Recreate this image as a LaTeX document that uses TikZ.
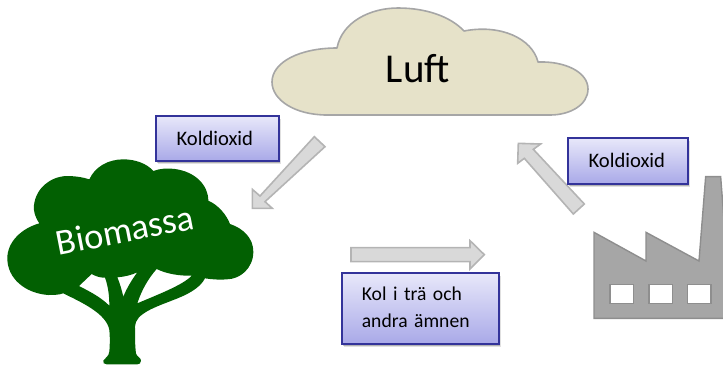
\documentclass[tikz,border=0pt]{standalone}
\usepackage{fontspec}
\setmainfont{Carlito}
\usetikzlibrary{shadows}
\tikzset{
  labelbox/.style={draw=boxblue,line width=1.7pt,top color=boxtop,bottom color=boxbot,
    drop shadow={shadow xshift=2.5pt,shadow yshift=-3.5pt,opacity=.12,fill=black},
    drop shadow={shadow xshift=1.5pt,shadow yshift=-2.5pt,opacity=.2,fill=black},
    inner sep=0pt,anchor=north west,font=\fontsize{19.6}{27}\selectfont},
  blockarrow/.style={draw=arrowline,fill=arrowfill,line width=1.6pt,line join=miter},
  factoryline/.style={draw=factoryedge,line width=1.4pt,line join=miter}
}
\definecolor{boxblue}{HTML}{33339A}
\definecolor{boxtop}{HTML}{E8E8FA}
\definecolor{boxbot}{HTML}{A9A9E8}
\definecolor{arrowline}{HTML}{B4B4B4}
\definecolor{arrowfill}{HTML}{D9D9D9}
\definecolor{factoryedge}{HTML}{8E8E8E}
\definecolor{factoryfill}{HTML}{A6A6A6}
\definecolor{treegreen}{HTML}{026002}
\definecolor{cloudfill}{HTML}{E6E2C9}
\definecolor{cloudedge}{HTML}{A6A6A6}
\begin{document}
\begin{tikzpicture}[x=1pt,y=-1pt]
\useasboundingbox (0,0) rectangle (723,365);
% cloud
\draw[fill=cloudfill,draw=cloudedge,line width=1.6pt,line join=round]
  (337,48) .. controls (342,22) and (370,8) .. (398,8)
  .. controls (425,8) and (450,16) .. (464,31)
  .. controls (500,24) and (532,38) .. (538,62)
  .. controls (565,61) and (588,72) .. (588,89)
  .. controls (588,105) and (570,115) .. (550,115)
  -- (327,115)
  .. controls (295,115) and (272,100) .. (272,82)
  .. controls (272,62) and (300,48) .. (337,48) -- cycle;
\node (luft) at (418,69) {\fontsize{41}{44}\selectfont Luft};
% tree
\begin{scope}[shift={(0,100)},x=0.33333pt,y=-0.33333pt]
\fill[treegreen,even odd rule]
  (268,238) .. controls (285,200) and (325,178) .. (370,178)
  .. controls (405,178) and (440,190) .. (460,213)
  .. controls (480,205) and (505,204) .. (525,207)
  .. controls (585,215) and (625,255) .. (625,302)
  .. controls (655,315) and (680,345) .. (690,372)
  .. controls (730,385) and (760,415) .. (760,455)
  .. controls (760,505) and (720,538) .. (680,538)
  .. controls (655,540) and (635,538) .. (615,535)
  .. controls (600,565) and (560,585) .. (520,600)
  .. controls (470,620) and (405,640) .. (405,680)
  .. controls (405,710) and (405,740) .. (408,760)
  .. controls (410,770) and (423,772) .. (423,782)
  .. controls (423,790) and (418,793) .. (412,793)
  -- (320,793)
  .. controls (312,793) and (308,788) .. (310,782)
  .. controls (314,772) and (326,772) .. (328,755)
  .. controls (330,730) and (330,710) .. (328,690)
  .. controls (320,640) and (240,605) .. (190,580)
  .. controls (175,585) and (160,585) .. (145,585)
  .. controls (75,580) and (22,535) .. (22,475)
  .. controls (22,425) and (65,385) .. (118,370)
  .. controls (105,350) and (100,335) .. (102,315)
  .. controls (108,265) and (150,230) .. (200,228)
  .. controls (225,228) and (250,232) .. (268,238) -- cycle
  (237,558) -- (275,522) .. controls (290,530) and (300,533) .. (315,533)
  .. controls (325,560) and (328,590) .. (328,617)
  .. controls (300,590) and (270,575) .. (237,558) -- cycle
  (352,532) .. controls (375,530) and (395,525) .. (412,517)
  .. controls (395,540) and (380,565) .. (370,590)
  .. controls (365,570) and (360,550) .. (352,532) -- cycle
  (412,610) .. controls (425,570) and (445,535) .. (470,507)
  .. controls (500,522) and (540,528) .. (575,527)
  .. controls (550,555) and (470,585) .. (412,610) -- cycle;
\end{scope}
\node[text=white,rotate=11] (bio) at (125,230) {\fontsize{36.5}{40}\selectfont Biomassa};
% factory
\begin{scope}[shift={(330,130)},x=0.33333pt,y=-0.33333pt]
\clip (700,100) rectangle (1179,600);
\draw[factoryline,fill=factoryfill]
  (792,307) -- (948,393) -- (948,307) -- (1107,393) -- (1127,140) -- (1172,140) -- (1192,400) -- (1192,565) -- (792,565) -- cycle;
\foreach \wx in {840,957,1073}
  \draw[factoryline,fill=white] (\wx,463) rectangle ++(70,57);
\end{scope}
% arrows
\begin{scope}[shift={(0,100)},x=0.33333pt,y=-0.33333pt]
\draw[blockarrow] (943,110) -- (975,140) -- (795,305) -- (817,325) -- (757,325) -- (757,268) -- (780,288) -- cycle;
\end{scope}
\begin{scope}[shift={(330,130)},x=0.33333pt,y=-0.33333pt]
\draw[blockarrow] (763,222) -- (730,252) -- (583,85) -- (563,100) -- (565,40) -- (632,42) -- (610,58) -- cycle;
\draw[blockarrow] (63,353) -- (420,353) -- (420,332) -- (463,374) -- (420,417) -- (420,395) -- (63,395) -- cycle;
\end{scope}
% boxes
\node[labelbox,minimum width=123pt,minimum height=45pt] (k1) at (155,115) {\hspace*{-5pt}\fontsize{20.6}{27}\selectfont Koldioxid};
\node[labelbox,minimum width=120pt,minimum height=46pt] (k2) at (567,137) {\hspace*{-2pt}\fontsize{20.6}{27}\selectfont Koldioxid};
\node[labelbox,minimum width=157pt,minimum height=71pt,align=left,text width=137pt] (kol) at (341,272) {\hspace*{10pt}\begin{tabular}{@{}l@{}}Kol i trä och\\andra ämnen\end{tabular}};
\end{tikzpicture}
\end{document}
